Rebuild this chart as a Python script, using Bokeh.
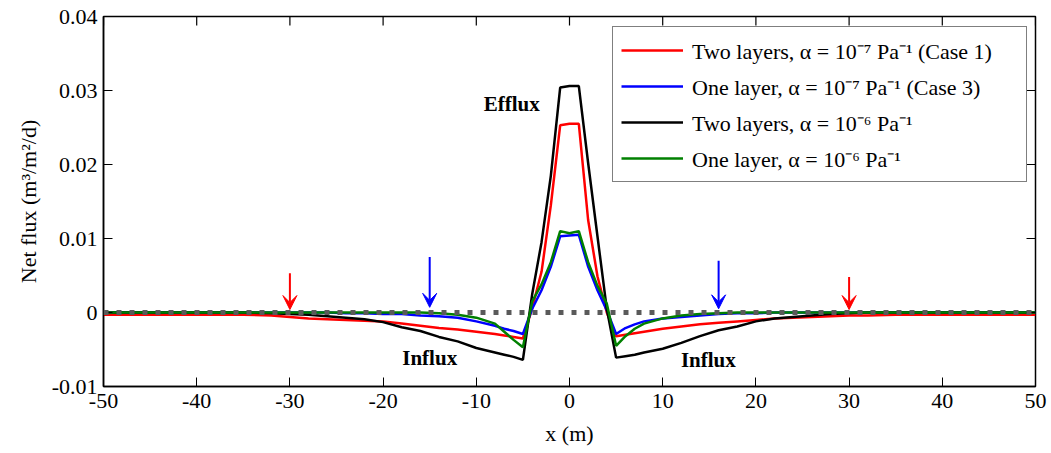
from bokeh.plotting import figure
from bokeh.models import (Range1d, FixedTicker, Legend, LegendItem,
                          Label, Arrow, VeeHead, Span)
from bokeh.embed import file_html
from bokeh.resources import INLINE

# ---------------- data ----------------
x_m = [-50, -45, -40, -35, -32, -30, -28, -26, -24, -22, -20, -18, -16, -14, -12, -10, -8, -7, -6, -5,
       -4, -3, -2, -1, 0, 1, 2, 3, 4,
       5, 6, 7, 8, 10, 12, 14, 16, 18, 20, 22, 24, 26, 28, 30, 32, 35, 40, 45, 50]

two_layers_1e7 = [-0.0003, -0.0003, -0.0003, -0.0003, -0.0004, -0.0006, -0.0008, -0.0009, -0.0010, -0.0011,
                  -0.0012, -0.0015, -0.0018, -0.0021, -0.0023, -0.0026, -0.0029, -0.0031, -0.0033, -0.0035,
                  0.0006, 0.0055, 0.0145, 0.0253, 0.0255, 0.0255, 0.0125, 0.0049, 0.0000,
                  -0.0032, -0.0030, -0.0028, -0.0026, -0.0022, -0.0019, -0.0016, -0.0014, -0.0012, -0.0010,
                  -0.0008, -0.0007, -0.0006, -0.0005, -0.0004, -0.0004, -0.0003, -0.0003, -0.0003, -0.0003]

one_layer_1e7 = [0.0, 0.0, 0.0, 0.0, 0.0, 0.0, 0.0, 0.0, -0.0001, -0.0001,
                 -0.0002, -0.0002, -0.0004, -0.0005, -0.0007, -0.0012, -0.0018, -0.0022, -0.0025, -0.0029,
                 0.0005, 0.0030, 0.0062, 0.0103, 0.0104, 0.0105, 0.0062, 0.0030, 0.0003,
                 -0.0029, -0.0021, -0.0016, -0.0012, -0.0008, -0.0006, -0.0004, -0.0002, -0.0001, -0.0001,
                 0.0, 0.0, 0.0, 0.0, 0.0, 0.0, 0.0, 0.0, 0.0, 0.0]

two_layers_1e6 = [0.0, 0.0, 0.0, 0.0, -0.0001, -0.0002, -0.0003, -0.0005, -0.0007, -0.0009,
                  -0.0013, -0.0020, -0.0025, -0.0033, -0.0039, -0.0048, -0.0054, -0.0057, -0.0060, -0.0064,
                  0.0025, 0.0095, 0.0185, 0.0304, 0.0306, 0.0306, 0.0202, 0.0103, 0.0005,
                  -0.0061, -0.0059, -0.0057, -0.0054, -0.0049, -0.0041, -0.0032, -0.0024, -0.0019, -0.0012,
                  -0.0008, -0.0006, -0.0004, -0.0002, -0.0001, 0.0, 0.0, 0.0, 0.0, 0.0]

one_layer_1e6 = [0.0, 0.0, 0.0, 0.0, 0.0, 0.0, 0.0, 0.0, 0.0, 0.0,
                 0.0, 0.0, 0.0, -0.0001, -0.0003, -0.0007, -0.0015, -0.0026, -0.0037, -0.0047,
                 0.0015, 0.0038, 0.0068, 0.0110, 0.0107, 0.0110, 0.0068, 0.0036, 0.0012,
                 -0.0045, -0.0032, -0.0022, -0.0015, -0.0008, -0.0004, -0.0002, -0.0001, 0.0, 0.0,
                 0.0, 0.0, 0.0, 0.0, 0.0, 0.0, 0.0, 0.0, 0.0, 0.0]

series_labels = ["Two layers, \u03b1 = 10\u207b\u2077 Pa\u207b\u00b9 (Case 1)",
                 "One layer, \u03b1 = 10\u207b\u2077 Pa\u207b\u00b9 (Case 3)",
                 "Two layers, \u03b1 = 10\u207b\u2076 Pa\u207b\u00b9",
                 "One layer, \u03b1 = 10\u207b\u2076 Pa\u207b\u00b9"]
series_colors = ["#ff0000", "#0000ff", "#000000", "#008000"]

x_ticks = [-50, -40, -30, -20, -10, 0, 10, 20, 30, 40, 50]
x_tick_labels = ["-50", "-40", "-30", "-20", "-10", "0", "10", "20", "30", "40", "50"]
y_ticks = [-0.01, 0, 0.01, 0.02, 0.03, 0.04]
y_tick_labels = ["-0.01", "0", "0.01", "0.02", "0.03", "0.04"]

# marker arrows (x position, tail value, tip value)
arrow_x = [-30, -15, 16, 30]
arrow_tail = [0.0053, 0.0075, 0.0070, 0.0048]
arrow_tip = [0.0004, 0.0007, 0.0005, 0.0004]
arrow_colors = ["#ff0000", "#0000ff", "#0000ff", "#ff0000"]

# annotation texts
notes_text = ["Efflux", "Influx", "Influx"]
notes_x = [-6.2, -15.0, 14.9]
notes_y = [0.0282, -0.0062, -0.0064]

FONT = "Liberation Serif"
X0, X1, Y0, Y1 = -50, 50, -0.01, 0.04
FW, FH = 932, 370
TICK = 9

p = figure(frame_width=FW, frame_height=FH,
           x_range=Range1d(X0, X1), y_range=Range1d(Y0, Y1),
           output_backend="svg", toolbar_location=None,
           min_border_left=103, min_border_right=16, min_border_top=16, min_border_bottom=67)
p.background_fill_color = "white"
p.border_fill_color = "white"
p.outline_line_color = "black"
p.outline_line_width = 1.5
p.xgrid.visible = False
p.ygrid.visible = False

renderers = []
for ys, col in zip([two_layers_1e7, one_layer_1e7, two_layers_1e6, one_layer_1e6], series_colors):
    r = p.line(x_m, ys, line_color=col, line_width=2.5)
    renderers.append(r)

zero = Span(location=0, dimension="width", line_color="#5a5a5a", line_width=5,
            line_dash="5 8", line_cap="butt")
p.add_layout(zero)

# axes styling
for ax in [p.xaxis[0], p.yaxis[0]]:
    ax.major_tick_in = TICK
    ax.major_tick_out = 0
    ax.minor_tick_line_color = None
    ax.axis_line_color = "black"
    ax.axis_line_width = 1.5
    ax.major_tick_line_color = "black"
    ax.major_label_text_font = FONT
    ax.major_label_text_font_size = "22px"
    ax.major_label_text_color = "black"
    ax.axis_label_text_font = FONT
    ax.axis_label_text_font_size = "22px"
    ax.axis_label_text_font_style = "normal"
    ax.axis_label_text_color = "black"

p.xaxis.ticker = FixedTicker(ticks=x_ticks)
p.yaxis.ticker = FixedTicker(ticks=y_ticks)
p.xaxis.major_label_overrides = dict(zip(x_ticks, x_tick_labels))
p.yaxis.major_label_overrides = dict(zip(y_ticks, y_tick_labels))
p.xaxis.major_label_standoff = 7
p.yaxis.major_label_standoff = 6

p.yaxis.axis_label = "Net flux (m\u00b3/m\u00b2/d)"
p.yaxis.axis_label_standoff = 8
p.xaxis.axis_label = "x (m)"
p.xaxis.axis_label_standoff = 10

# mirrored tick marks on the top and right edges
dy_tick = TICK * (Y1 - Y0) / FH
dx_tick = TICK * (X1 - X0) / FW
p.segment(x0=x_ticks, y0=[Y1] * len(x_ticks), x1=x_ticks, y1=[Y1 - dy_tick] * len(x_ticks),
          line_color="black", line_width=1.2)
p.segment(x0=[X1] * len(y_ticks), y0=y_ticks, x1=[X1 - dx_tick] * len(y_ticks), y1=y_ticks,
          line_color="black", line_width=1.2)

# arrows
for ax_, yt, yb, c in zip(arrow_x, arrow_tail, arrow_tip, arrow_colors):
    p.add_layout(Arrow(end=VeeHead(size=14, fill_color=c, line_color=c, line_width=1),
                       x_start=ax_, y_start=yt, x_end=ax_, y_end=yb,
                       line_color=c, line_width=2))

for t, tx, ty in zip(notes_text, notes_x, notes_y):
    p.add_layout(Label(x=tx, y=ty, text=t, text_font=FONT, text_font_size="21px",
                       text_font_style="bold", text_align="center", text_baseline="middle",
                       text_color="black"))

legend = Legend(items=[LegendItem(label=l, renderers=[r]) for l, r in zip(series_labels, renderers)],
                location=(509, 204))
legend.label_text_font = FONT
legend.label_text_font_size = "22px"
legend.label_text_color = "black"
legend.border_line_color = "black"
legend.border_line_width = 1.5
legend.background_fill_color = "white"
legend.background_fill_alpha = 1.0
legend.glyph_width = 62
legend.glyph_height = 30
legend.label_height = 30
legend.label_width = 326
legend.spacing = 6
legend.padding = 8
legend.margin = 0
legend.label_standoff = 9
p.add_layout(legend)

open("out.html", "w").write(file_html(p, INLINE))
